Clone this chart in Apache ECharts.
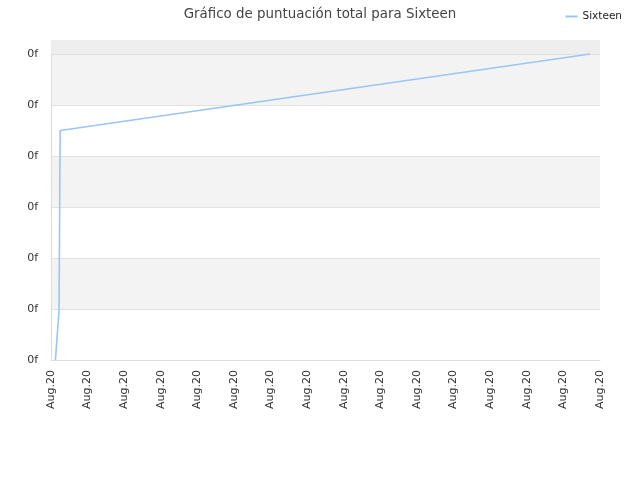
<!DOCTYPE html>
<html>
<head>
<meta charset="utf-8">
<script src="https://cdn.jsdelivr.net/npm/echarts@6/dist/echarts.min.js"></script>
<style>
  html, body { margin: 0; padding: 0; background: #fff; }
  #chart { width: 640px; height: 480px; }
</style>
</head>
<body>
<div id="chart"></div>
<script>
// datos
var titulo = "Gráfico de puntuación total para Sixteen";
var serieNombre = "Sixteen";
var xValores = [0.12, 0.22, 0.25, 14.73];
var yValores = [0, 0.97, 4.5, 6.0];
var xEtiqueta = "Aug.20";
var yEtiqueta = "0f";

var puntos = xValores.map(function (x, i) { return [x, yValores[i]]; });

var chart = echarts.init(document.getElementById("chart"));
var option = {
    animation: false,
    title: {
        text: titulo,
        left: "center",
        top: 3,
        textStyle: { fontFamily: "DejaVu Sans", fontSize: 13.4, fontWeight: "normal", color: "#444" }
    },
    legend: {
        right: 13,
        top: 6,
        itemWidth: 12,
        itemHeight: 2,
        itemGap: 8,
        icon: "rect",
        textStyle: { fontFamily: "DejaVu Sans", fontSize: 10.5, color: "#222" },
        data: [serieNombre]
    },
    grid: { left: 51, right: 40, top: 40, bottom: 120 },
    xAxis: {
        type: "value",
        min: 0,
        max: 15,
        interval: 1,
        axisLine: { lineStyle: { color: "#ddd" } },
        axisTick: { show: false },
        splitLine: { show: false },
        axisLabel: {
            rotate: 90,
            margin: 10,
            fontFamily: "DejaVu Sans",
            fontSize: 11,
            color: "#333",
            formatter: function () { return xEtiqueta; }
        }
    },
    yAxis: {
        type: "value",
        min: 0,
        max: 6.275,
        interval: 1,
        axisLine: { show: true, lineStyle: { color: "#ddd" } },
        axisTick: { show: false },
        splitLine: { show: true, lineStyle: { color: "#e2e2e2" } },
        splitArea: { show: true, areaStyle: { color: ["#ffffff", "#f3f3f3"] } },
        axisLabel: {
            showMaxLabel: false,
            margin: 13,
            fontFamily: "DejaVu Sans",
            fontSize: 11,
            color: "#333",
            formatter: function () { return yEtiqueta; }
        }
    },
    series: [{
        name: serieNombre,
        type: "line",
        data: puntos,
        symbol: "none",
        lineStyle: { color: "#99c6f6", width: 1.6 },
        itemStyle: { color: "#99c6f6" },
        markArea: {
            silent: true,
            itemStyle: { color: "#eeeeee" },
            data: [[{ yAxis: 6 }, { yAxis: 6.275 }]]
        }
    }]
};
chart.setOption(option);
</script>
</body>
</html>
